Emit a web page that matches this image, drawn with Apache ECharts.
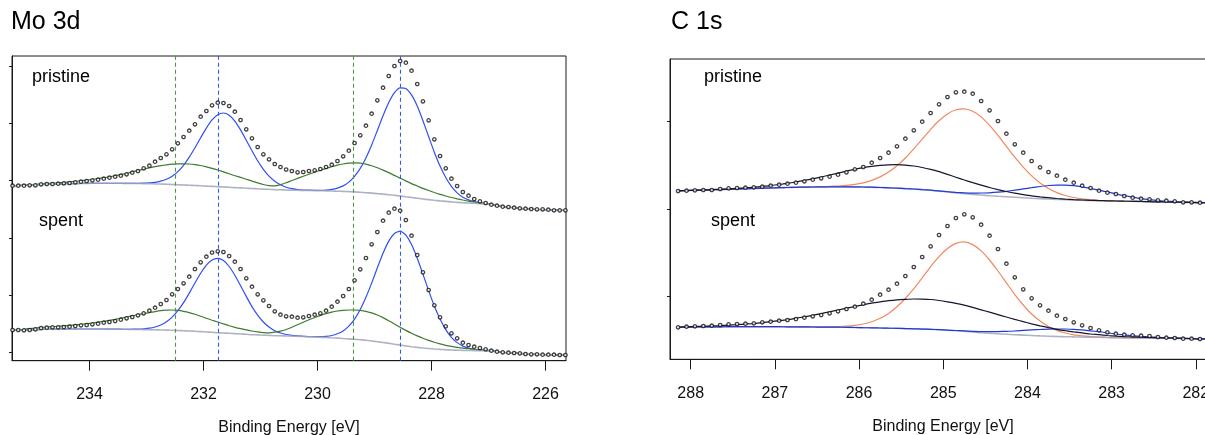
<!DOCTYPE html>
<html>
<head>
<meta charset="utf-8">
<script src="https://cdn.jsdelivr.net/npm/echarts@6/dist/echarts.min.js"></script>
<style>
html,body{margin:0;padding:0;background:#fff;}
#chart{width:1205px;height:435px;}
</style>
</head>
<body>
<div id="chart"></div>
<script>
// ---------- Mo 3d panel (binding energy, eV) ----------
const moEnergy = [
235.35,235.25,235.15,235.05,234.95,234.85,234.75,234.65,234.55,234.45,
234.35,234.25,234.15,234.05,233.95,233.85,233.75,233.65,233.55,233.45,
233.35,233.25,233.15,233.05,232.95,232.85,232.75,232.65,232.55,232.45,
232.35,232.25,232.15,232.05,231.95,231.85,231.75,231.65,231.55,231.45,
231.35,231.25,231.15,231.05,230.95,230.85,230.75,230.65,230.55,230.45,
230.35,230.25,230.15,230.05,229.95,229.85,229.75,229.65,229.55,229.45,
229.35,229.25,229.15,229.05,228.95,228.85,228.75,228.65,228.55,228.45,
228.35,228.25,228.15,228.05,227.95,227.85,227.75,227.65,227.55,227.45,
227.35,227.25,227.15,227.05,226.95,226.85,226.75,226.65,226.55,226.45,
226.35,226.25,226.15,226.05,225.95,225.85,225.75,225.65];

const moPristineCounts = [
166.3,166.3,166.3,166.7,166.7,167.7,168.0,168.0,168.3,168.7,
169.0,169.7,170.3,171.0,171.7,172.3,173.3,174.3,175.3,176.3,
177.7,179.3,181.0,183.7,186.3,190.3,194.0,197.7,202.7,208.7,
215.0,221.3,227.7,235.3,241.0,246.7,249.3,249.0,246.0,240.3,
232.0,222.7,213.7,205.0,197.7,192.7,188.0,185.0,182.5,181.0,
179.7,180.0,181.0,181.7,183.0,185.0,187.3,191.0,195.7,201.3,
209.0,216.7,226.3,238.3,251.7,264.3,276.0,286.0,291.0,289.3,
281.3,268.0,250.7,231.7,212.7,196.0,183.7,173.3,166.0,160.0,
156.3,153.0,150.7,149.0,147.3,146.3,145.3,145.0,144.3,143.7,
143.3,143.0,142.7,142.7,142.3,141.7,141.7,141.7];

const moPristineBg = [
166.2,166.4,166.7,166.9,167.2,167.4,167.7,167.9,168.0,168.2,
168.3,168.4,168.5,168.6,168.7,168.7,168.7,168.7,168.7,168.7,
168.6,168.6,168.5,168.4,168.3,168.1,168.0,167.8,167.5,167.3,
167.0,166.8,166.5,166.2,165.9,165.6,165.3,165.0,164.7,164.4,
164.1,163.8,163.5,163.2,162.9,162.7,162.4,162.2,162.0,161.8,
161.7,161.6,161.5,161.4,161.3,161.1,161.0,160.8,160.6,160.4,
160.1,159.7,159.3,158.9,158.4,157.9,157.3,156.7,156.0,155.2,
154.5,153.8,153.0,152.4,151.7,151.1,150.6,150.1,149.6,149.3,
149.0,148.7,148.4,148.0,147.2,146.2,145.3,144.8,144.2,143.6,
143.2,142.9,142.6,142.4,142.1,141.8,141.7,141.7];

const moPristineBlue = [
166.2,166.4,166.7,166.9,167.2,167.4,167.7,167.9,168.0,168.2,
168.3,168.4,168.5,168.6,168.7,168.7,168.7,168.7,168.7,168.7,
168.6,168.6,168.7,168.8,169.1,169.6,170.8,172.8,175.8,180.4,
186.7,194.8,204.2,214.2,223.9,232.1,237.3,239.0,236.7,230.9,
222.1,211.8,201.2,191.2,182.6,175.8,170.7,167.2,164.8,163.3,
162.5,162.0,161.8,161.7,161.7,161.9,162.6,163.9,166.1,169.9,
175.6,183.6,194.1,207.0,221.5,236.2,249.4,259.3,264.2,263.4,
257.1,245.9,231.3,215.5,199.8,185.9,174.5,165.6,159.1,154.8,
152.1,150.3,149.2,148.4,147.4,146.3,145.3,144.8,144.2,143.6,
143.2,142.9,142.6,142.4,142.1,141.8,141.7,141.7];

const moPristineGreen = [
166.2,166.5,166.8,167.2,167.6,168.0,168.4,168.8,169.2,169.6,
170.1,170.7,171.3,171.9,172.6,173.4,174.3,175.2,176.3,177.4,
178.7,180.1,181.5,182.9,184.2,185.4,186.4,187.2,187.8,188.1,
188.2,188.0,187.4,186.5,185.2,183.7,182.0,180.1,178.2,176.3,
174.6,172.8,170.9,169.1,167.5,166.4,166.2,167.4,169.3,171.5,
173.6,175.7,177.8,179.8,181.7,183.6,185.4,186.9,188.0,188.8,
189.1,188.9,187.9,186.3,184.3,181.9,179.4,176.6,173.9,171.1,
168.4,166.0,163.6,161.5,159.5,157.6,156.0,154.5,153.2,152.0,
150.9,150.0,149.2,148.5,147.6,146.4,145.4,144.8,144.2,143.6,
143.2,142.9,142.6,142.4,142.1,141.8,141.7,141.7];

const moSpentCounts = [
22.0,22.0,21.7,22.0,22.7,24.0,24.3,24.7,24.7,25.0,
25.3,26.0,26.7,27.0,27.7,28.3,29.3,30.0,31.0,32.3,
33.7,35.0,36.7,38.7,41.3,44.3,48.0,52.0,57.7,63.0,
68.7,75.3,83.0,89.7,95.3,99.5,100.7,100.0,96.0,90.3,
83.0,73.7,65.3,57.7,51.7,46.0,40.7,37.3,35.7,35.3,
34.3,34.7,36.0,37.3,38.7,41.3,45.3,50.3,56.0,63.0,
71.7,82.7,94.0,107.7,120.0,131.3,139.3,143.3,141.3,132.0,
116.3,97.0,79.7,62.0,46.7,34.7,25.7,18.7,13.7,9.3,
7.0,5.3,4.0,2.7,1.3,0.3,-0.3,-0.7,-1.0,-1.3,
-2.0,-2.3,-2.3,-2.7,-2.7,-2.7,-3.0,-3.0];

const moSpentBg = [
22.0,22.0,22.0,22.1,22.3,22.5,22.7,22.8,22.8,22.9,
23.0,23.0,23.0,23.0,23.0,23.0,23.0,22.9,22.8,22.8,
22.7,22.6,22.5,22.4,22.3,22.2,22.0,21.9,21.7,21.5,
21.2,21.0,20.7,20.4,20.0,19.7,19.3,19.0,18.7,18.4,
18.0,17.7,17.3,17.1,16.8,16.6,16.3,16.2,16.0,15.9,
15.7,15.5,15.2,15.0,14.7,14.5,14.2,13.9,13.5,13.1,
12.7,12.2,11.7,11.0,10.3,9.5,8.7,7.8,7.0,6.1,
5.3,4.6,4.0,3.5,3.0,2.6,2.3,2.0,1.8,1.6,
1.5,1.4,1.3,1.2,1.0,0.2,-0.3,-0.7,-1.0,-1.3,
-2.0,-2.3,-2.3,-2.7,-2.7,-2.7,-3.0,-3.0];

const moSpentBlue = [
22.0,22.0,22.0,22.1,22.3,22.5,22.7,22.8,22.8,22.9,
23.0,23.0,23.0,23.0,23.0,23.0,23.0,22.9,22.8,22.8,
22.7,22.8,22.9,23.2,23.8,25.0,27.0,30.2,34.9,41.3,
49.3,58.9,69.0,78.7,86.8,92.1,93.7,91.4,85.5,76.7,
66.3,55.6,45.4,36.9,30.0,24.9,21.3,19.0,17.5,16.7,
16.1,15.7,15.3,15.3,15.3,15.7,16.5,18.2,21.1,25.8,
32.8,42.5,54.7,68.9,84.2,98.7,110.9,118.5,120.8,116.8,
107.5,93.8,77.9,61.4,46.0,32.9,22.4,14.7,9.4,5.9,
3.8,2.6,1.9,1.5,1.1,0.2,-0.3,-0.7,-1.0,-1.3,
-2.0,-2.3,-2.3,-2.7,-2.7,-2.7,-3.0,-3.0];

const moSpentGreen = [
22.0,22.3,22.7,23.3,24.0,24.5,25.0,25.4,25.7,26.2,
26.7,27.2,27.7,28.3,29.0,29.8,30.7,31.7,32.7,33.8,
35.0,36.2,37.3,38.4,39.3,40.4,41.3,41.8,42.0,41.6,
40.7,39.4,37.7,35.8,33.7,31.8,30.0,28.1,26.3,24.7,
23.3,22.1,21.0,20.1,19.4,19.2,19.8,20.8,22.5,24.8,
27.3,29.8,32.2,34.5,36.6,38.4,39.9,41.0,41.7,42.0,
42.0,41.6,40.7,39.1,37.0,34.4,31.3,28.0,24.7,21.6,
18.7,16.1,13.7,11.6,9.7,8.1,6.7,5.6,4.7,3.9,
3.3,2.7,2.3,1.9,1.5,0.4,-0.3,-0.7,-1.0,-1.3,
-2.0,-2.3,-2.3,-2.7,-2.7,-2.7,-3.0,-3.0];

const moGreenRefs = [232.49, 229.37];
const moBlueRefs = [231.755, 228.54];
const moTickValues = [226, 228, 230, 232, 234];
const moIntensityTicks = [0, 57.1, 114.2, 171.3, 228.4, 285.5];

// ---------- C 1s panel ----------
const cEnergy = [
288.15,288.05,287.95,287.85,287.75,287.65,287.55,287.45,287.35,287.25,
287.15,287.05,286.95,286.85,286.75,286.65,286.55,286.45,286.35,286.25,
286.15,286.05,285.95,285.85,285.75,285.65,285.55,285.45,285.35,285.25,
285.15,285.05,284.95,284.85,284.75,284.65,284.55,284.45,284.35,284.25,
284.15,284.05,283.95,283.85,283.75,283.65,283.55,283.45,283.35,283.25,
283.15,283.05,282.95,282.85,282.75,282.65,282.55,282.45,282.35,282.25,
282.15,282.05,281.95,281.85];

const cPristineCounts = [
168.3,168.6,169.0,169.3,169.3,170.3,171.0,171.3,171.6,172.0,
172.6,173.6,174.6,175.6,176.6,178.0,179.6,181.0,182.6,184.6,
187.0,190.0,192.3,196.6,201.3,206.6,213.0,220.6,229.0,237.6,
246.3,255.0,262.3,267.0,267.6,265.6,258.3,249.0,238.3,225.6,
215.0,206.6,198.3,192.0,187.3,183.6,179.6,176.6,173.6,171.3,
168.6,166.6,165.3,163.3,161.6,160.6,160.0,159.0,158.6,158.0,
157.0,157.0,156.6,156.5];

const cPristineBg = [
168.4,168.7,169.0,169.2,169.5,169.7,170.0,170.3,170.6,170.8,
171.1,171.3,171.6,171.8,172.0,172.2,172.3,172.4,172.5,172.5,
172.5,172.4,172.3,172.1,171.8,171.5,171.1,170.7,170.3,169.7,
169.0,168.2,167.3,166.4,165.6,164.9,164.3,163.6,163.0,162.5,
162.0,161.5,161.0,160.6,160.3,159.9,159.6,159.3,159.0,158.8,
158.6,158.4,158.3,158.1,158.0,157.8,157.6,157.4,157.3,157.1,
157.0,156.8,156.6,156.6];

const cPristineBlue = [
168.4,168.7,169.0,169.2,169.5,169.7,170.0,170.3,170.6,170.8,
171.1,171.3,171.6,171.8,172.0,172.2,172.3,172.4,172.5,172.5,
172.5,172.4,172.3,172.1,171.8,171.5,171.1,170.7,170.3,169.7,
169.1,168.4,167.6,166.9,166.4,166.2,166.3,166.5,167.1,168.0,
169.1,170.4,171.6,172.8,173.8,174.2,174.2,173.6,172.5,171.0,
169.2,167.3,165.4,163.6,162.1,160.7,159.6,158.7,158.1,157.6,
157.3,157.0,156.7,156.6];

const cPristineBlack = [
168.4,168.8,169.1,169.3,169.7,170.0,170.4,170.9,171.5,172.1,
172.9,173.7,174.8,175.9,177.3,178.9,180.5,182.3,184.3,186.2,
188.2,190.0,191.7,193.0,193.9,194.5,194.6,194.2,193.3,191.8,
189.9,187.6,184.9,182.1,179.3,176.7,174.2,171.8,169.7,167.8,
166.1,164.7,163.4,162.4,161.6,160.8,160.2,159.7,159.3,159.0,
158.7,158.5,158.3,158.1,158.0,157.8,157.6,157.4,157.3,157.1,
157.0,156.8,156.6,156.6];

const cPristineOrange = [
168.4,168.7,169.0,169.2,169.5,169.7,170.0,170.3,170.6,170.8,
171.1,171.3,171.6,171.8,172.0,172.2,172.4,172.6,172.9,173.3,
173.9,174.9,176.5,178.9,182.4,187.2,193.5,201.3,210.4,220.1,
229.9,238.6,245.4,249.5,250.5,248.0,242.4,234.0,223.9,212.9,
202.1,192.1,183.4,176.3,170.9,166.7,163.8,161.8,160.4,159.6,
159.0,158.6,158.4,158.1,158.0,157.8,157.6,157.4,157.3,157.1,
157.0,156.8,156.6,156.6];

const cSpentCounts = [
32.0,32.6,33.0,33.3,33.6,34.3,35.0,35.3,35.6,36.0,
37.0,37.6,38.6,39.3,40.3,41.6,43.0,44.3,46.0,48.0,
50.3,52.6,55.6,59.6,64.6,69.6,75.6,83.3,92.3,102.3,
113.0,124.3,133.3,141.3,145.0,142.0,134.6,123.6,110.3,95.6,
82.0,70.0,61.0,54.0,48.6,43.6,40.3,37.0,34.0,31.3,
29.0,27.0,25.6,24.6,24.0,23.6,23.3,22.3,21.6,21.3,
20.6,20.6,20.3,20.3];

const cSpentBg = [
32.0,32.1,32.3,32.4,32.5,32.5,32.6,32.6,32.6,32.6,
32.6,32.6,32.6,32.5,32.5,32.4,32.3,32.2,32.2,32.1,
32.0,31.8,31.6,31.5,31.3,31.1,31.0,30.7,30.5,30.2,
30.0,29.5,29.0,28.5,28.0,27.3,26.6,26.1,25.6,25.1,
24.6,24.2,23.8,23.4,23.1,22.8,22.6,22.4,22.3,22.1,
22.0,21.8,21.6,21.5,21.5,21.4,21.3,21.2,21.1,21.0,
20.8,20.6,20.3,20.3];

const cSpentBlue = [
32.0,32.1,32.3,32.4,32.5,32.5,32.6,32.6,32.6,32.6,
32.6,32.6,32.6,32.5,32.5,32.4,32.3,32.2,32.2,32.1,
32.0,31.8,31.6,31.5,31.3,31.1,31.0,30.7,30.5,30.2,
30.0,29.6,29.2,28.8,28.4,28.0,27.6,27.6,27.7,28.0,
28.3,28.9,29.4,29.8,30.2,30.3,30.3,29.9,29.4,28.5,
27.6,26.5,25.3,24.4,23.6,22.9,22.3,21.9,21.5,21.3,
21.0,20.7,20.3,20.3];

const cSpentBlack = [
32.3,32.5,32.8,33.1,33.4,33.7,34.2,34.6,35.2,35.8,
36.7,37.6,38.6,39.7,41.1,42.5,44.0,45.7,47.5,49.3,
51.1,52.8,54.5,56.1,57.4,58.6,59.5,60.0,60.3,60.2,
59.8,58.8,57.5,56.0,54.1,51.9,49.5,47.1,44.7,42.3,
39.9,37.7,35.5,33.5,31.7,30.0,28.6,27.4,26.4,25.3,
24.6,23.8,23.2,22.7,22.4,22.1,21.8,21.6,21.4,21.2,
20.9,20.7,20.3,20.3];

const cSpentOrange = [
32.0,32.1,32.3,32.4,32.5,32.5,32.6,32.6,32.6,32.6,
32.6,32.6,32.6,32.5,32.5,32.4,32.4,32.3,32.5,32.7,
33.1,33.9,35.3,37.6,41.0,45.9,52.5,60.8,70.6,81.5,
92.7,102.7,110.8,115.9,117.4,114.7,108.4,99.3,88.3,76.4,
64.7,54.3,45.3,38.2,32.8,28.9,26.3,24.5,23.4,22.7,
22.3,21.9,21.6,21.5,21.5,21.4,21.3,21.2,21.1,21.0,
20.8,20.6,20.3,20.3];

const cTickValues = [282, 283, 284, 285, 286, 287, 288];
const cIntensityTicks = [62.6, 150.3, 237.6];

const panelTitles = ['Mo 3d', 'C 1s'];
const sampleNames = ['pristine', 'spent'];
const axisTitle = 'Binding Energy [eV]';

// ---------- build chart ----------
const FONT = '"Liberation Sans", Arial, Helvetica, sans-serif';
const INK = '#1a1a1a';
const COL = {
  moBlue: '#2f4ff5', moGreen: '#3f7b2e', bg: 'rgba(160,166,186,0.85)',
  refGreen: '#4f9645', refBlue: '#3358f5',
  cOrange: '#f0895f', cBlack: '#16162c', cBlue: '#2338d8'
};
const pairs = (xs, ys) => xs.map((x, i) => [x, ys[i]]);

function lineSeries(g, xs, ys, color, width, z) {
  return {
    type: 'line', xAxisIndex: g, yAxisIndex: g, data: pairs(xs, ys),
    showSymbol: false, symbol: 'none', smooth: 0.2, silent: true,
    lineStyle: { color: color, width: width }, z: z, animation: false
  };
}
function dotSeries(g, xs, ys) {
  return {
    type: 'scatter', xAxisIndex: g, yAxisIndex: g, data: pairs(xs, ys),
    symbol: 'circle', symbolSize: 3.4, silent: true,
    itemStyle: { color: '#ffffff', borderColor: '#111', borderWidth: 1.3 },
    z: 5, animation: false
  };
}
function refSeries(values, color) {
  return {
    type: 'line', xAxisIndex: 0, yAxisIndex: 0, data: [], silent: true, animation: false,
    color: color,
    markLine: {
      symbol: 'none', silent: true, animation: false, label: { show: false },
      emphasis: { disabled: true },
      lineStyle: { color: color, type: [4, 3], width: 1.1, opacity: 1 },
      data: values.map(function (x) { return { xAxis: x }; })
    },
    z: 2
  };
}

function xAxisDef(g, min, max, ticks) {
  return {
    type: 'value', gridIndex: g, min: min, max: max, inverse: true,
    axisLine: { show: true, onZero: false, lineStyle: { color: INK, width: 1 } },
    axisTick: { show: true, length: 10, customValues: ticks, lineStyle: { color: INK, width: 1 } },
    axisLabel: { show: true, customValues: ticks, margin: 26, fontSize: 16, color: '#111', fontFamily: FONT },
    splitLine: { show: false },
    name: axisTitle, nameLocation: 'middle', nameGap: 59,
    nameTextStyle: { fontSize: 16, color: '#111', fontFamily: FONT }
  };
}
function yAxisDef(g, min, max, ticks) {
  return {
    type: 'value', gridIndex: g, min: min, max: max,
    axisLine: { show: true, onZero: false, lineStyle: { color: INK, width: 1 } },
    axisTick: { show: true, length: 3, customValues: ticks, lineStyle: { color: INK, width: 1 } },
    axisLabel: { show: false },
    splitLine: { show: false }
  };
}

const series = [];
// Mo 3d: pristine & spent
[[moPristineCounts, moPristineBg, moPristineBlue, moPristineGreen],
 [moSpentCounts, moSpentBg, moSpentBlue, moSpentGreen]].forEach(function (s) {
  series.push(lineSeries(0, moEnergy, s[2], COL.moBlue, 1.2, 3));
  series.push(lineSeries(0, moEnergy, s[3], COL.moGreen, 1.2, 3));
  series.push(lineSeries(0, moEnergy, s[1], COL.bg, 1.6, 4));
  series.push(dotSeries(0, moEnergy, s[0]));
});
series.push(refSeries(moGreenRefs, COL.refGreen));
series.push(refSeries(moBlueRefs, COL.refBlue));
// C 1s: pristine & spent
[[cPristineCounts, cPristineBg, cPristineBlue, cPristineBlack, cPristineOrange],
 [cSpentCounts, cSpentBg, cSpentBlue, cSpentBlack, cSpentOrange]].forEach(function (s) {
  series.push(lineSeries(1, cEnergy, s[4], COL.cOrange, 1.2, 2));
  series.push(lineSeries(1, cEnergy, s[1], COL.bg, 1.6, 3));
  series.push(lineSeries(1, cEnergy, s[2], COL.cBlue, 1.2, 3));
  series.push(lineSeries(1, cEnergy, s[3], COL.cBlack, 1.2, 4));
  series.push(dotSeries(1, cEnergy, s[0]));
});

function label(text, x, y, size, align) {
  return { type: 'text', x: x, y: y, silent: true,
    style: { text: text, fill: '#000', font: size + 'px ' + FONT, align: align, verticalAlign: 'middle' } };
}

const option = {
  animation: false,
  backgroundColor: '#ffffff',
  textStyle: { fontFamily: FONT },
  grid: [
    { left: 12, top: 56, width: 554, height: 304.7, show: true, borderColor: INK, borderWidth: 1,
      backgroundColor: 'transparent', outerBoundsMode: 'none', containLabel: false },
    { left: 670, top: 59, width: 546, height: 300.3, show: true, borderColor: INK, borderWidth: 1,
      backgroundColor: 'transparent', outerBoundsMode: 'none', containLabel: false }
  ],
  xAxis: [
    xAxisDef(0, 225.64, 235.36, moTickValues),
    xAxisDef(1, 281.76, 288.246, cTickValues)
  ],
  yAxis: [
    yAxisDef(0, -8.7, 296, moIntensityTicks),
    yAxisDef(1, 0, 300.3, cIntensityTicks)
  ],
  graphic: [
    label(panelTitles[0], 11, 22, 25, 'left'),
    label(panelTitles[1], 671, 22, 25, 'left'),
    label(sampleNames[0], 61, 77, 18, 'center'),
    label(sampleNames[1], 61, 221, 18, 'center'),
    label(sampleNames[0], 733, 77, 18, 'center'),
    label(sampleNames[1], 733, 221, 18, 'center')
  ],
  series: series
};

const chart = echarts.init(document.getElementById('chart'), null, { renderer: 'canvas', width: 1205, height: 435 });
chart.setOption(option);
</script>
</body>
</html>
